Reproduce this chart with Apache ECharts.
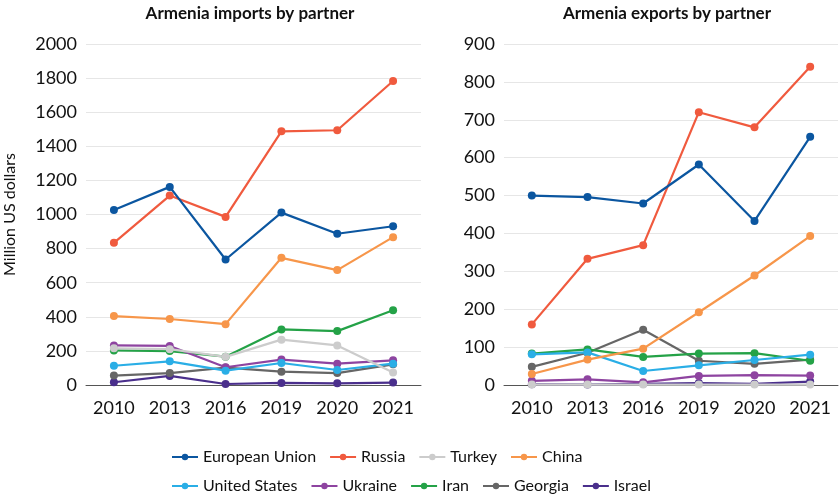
<!DOCTYPE html>
<html>
<head>
<meta charset="utf-8">
<script src="https://cdn.jsdelivr.net/npm/echarts@6/dist/echarts.min.js"></script>
<style>
  html, body { margin: 0; padding: 0; background: #fff; }
  #chart { width: 840px; height: 504px; }
</style>
</head>
<body>
<div id="chart"></div>
<script>
const years = ['2010', '2013', '2016', '2019', '2020', '2021'];
const partners = ['European Union', 'Russia', 'Turkey', 'China', 'United States', 'Ukraine', 'Iran', 'Georgia', 'Israel'];
const colors = ['#0b56a0', '#f05a3e', '#cccccc', '#f7964a', '#2aaee6', '#8e44a0', '#24a247', '#666666', '#4a2f8c'];

// imports, million US dollars
const impEU = [1027, 1162, 736, 1011, 887, 931];
const impRussia = [834, 1111, 986, 1488, 1494, 1783];
const impTurkey = [215, 210, 165, 266, 232, 73];
const impChina = [404, 387, 357, 746, 674, 867];
const impUS = [113, 139, 84, 129, 88, 125];
const impUkraine = [232, 229, 104, 149, 125, 145];
const impIran = [203, 199, 166, 326, 316, 438];
const impGeorgia = [55, 70, 102, 78, 70, 121];
const impIsrael = [16, 53, 6, 12, 10, 14];

// exports, million US dollars
const expEU = [500, 496, 479, 582, 433, 655];
const expRussia = [160, 333, 369, 720, 680, 840];
const expTurkey = [1, 1, 1, 1, 1, 1];
const expChina = [29, 67, 96, 192, 289, 393];
const expUS = [81, 86, 37, 52, 66, 80];
const expUkraine = [11, 15, 7, 24, 26, 25];
const expIran = [83, 94, 74, 83, 84, 64];
const expGeorgia = [48, 85, 146, 64, 56, 67];
const expIsrael = [2, 1, 3, 5, 3, 9];

const imports = [impEU, impRussia, impTurkey, impChina, impUS, impUkraine, impIran, impGeorgia, impIsrael];
const exportsData = [expEU, expRussia, expTurkey, expChina, expUS, expUkraine, expIran, expGeorgia, expIsrael];

const font = 'Lato, "DejaVu Sans", sans-serif';

function xAxis(gi) {
  return {
    type: 'category', gridIndex: gi, data: years,
    axisTick: { show: false },
    axisLine: { lineStyle: { color: '#555', width: 1 } },
    axisLabel: { color: '#111', fontSize: 18, fontFamily: font, margin: 14 }
  };
}
function yAxis(gi, max, interval, name) {
  return {
    type: 'value', gridIndex: gi, min: 0, max: max, interval: interval,
    name: name, nameLocation: 'middle', nameGap: 68, nameRotate: 90,
    nameTextStyle: { color: '#111', fontSize: 16, fontFamily: font },
    axisLine: { show: false }, axisTick: { show: false },
    splitLine: { lineStyle: { color: '#e6e6e6', width: 1 } },
    axisLabel: { color: '#111', fontSize: 18, fontFamily: font, margin: 9,
      formatter: v => String(v) }
  };
}

const series = [];
partners.forEach((p, i) => {
  [imports, exportsData].forEach((set, gi) => {
    series.push({
      name: p, type: 'line', xAxisIndex: gi, yAxisIndex: gi,
      data: set[i], color: colors[i],
      symbol: 'circle', symbolSize: 8,
      lineStyle: { width: 2.2 },
      z: 10 - i,
      animation: false
    });
  });
});

const chart = echarts.init(document.getElementById('chart'));
chart.setOption({
  backgroundColor: '#fff',
  textStyle: { fontFamily: font },
  title: [
    { text: 'Armenia imports by partner', left: 245, top: 0, textAlign: 'center',
      textStyle: { fontSize: 17, fontWeight: 'bold', color: '#111', fontFamily: font } },
    { text: 'Armenia exports by partner', left: 662, top: 0, textAlign: 'center',
      textStyle: { fontSize: 17, fontWeight: 'bold', color: '#111', fontFamily: font } }
  ],
  grid: [
    { left: 86, right: 419, top: 44, height: 341 },
    { left: 504, right: 2, top: 44, height: 341 }
  ],
  xAxis: [xAxis(0), xAxis(1)],
  yAxis: [yAxis(0, 2000, 200, 'Million US dollars'), yAxis(1, 900, 100, '')],
  legend: [
    { data: partners.slice(0, 4), left: 166, top: 444, itemWidth: 26, itemHeight: 8, itemGap: 13,
      textStyle: { fontSize: 16, color: '#111', fontFamily: font } },
    { data: partners.slice(4), left: 166, top: 473, itemWidth: 26, itemHeight: 8, itemGap: 13,
      textStyle: { fontSize: 16, color: '#111', fontFamily: font } }
  ],
  series: series
});
</script>
</body>
</html>
